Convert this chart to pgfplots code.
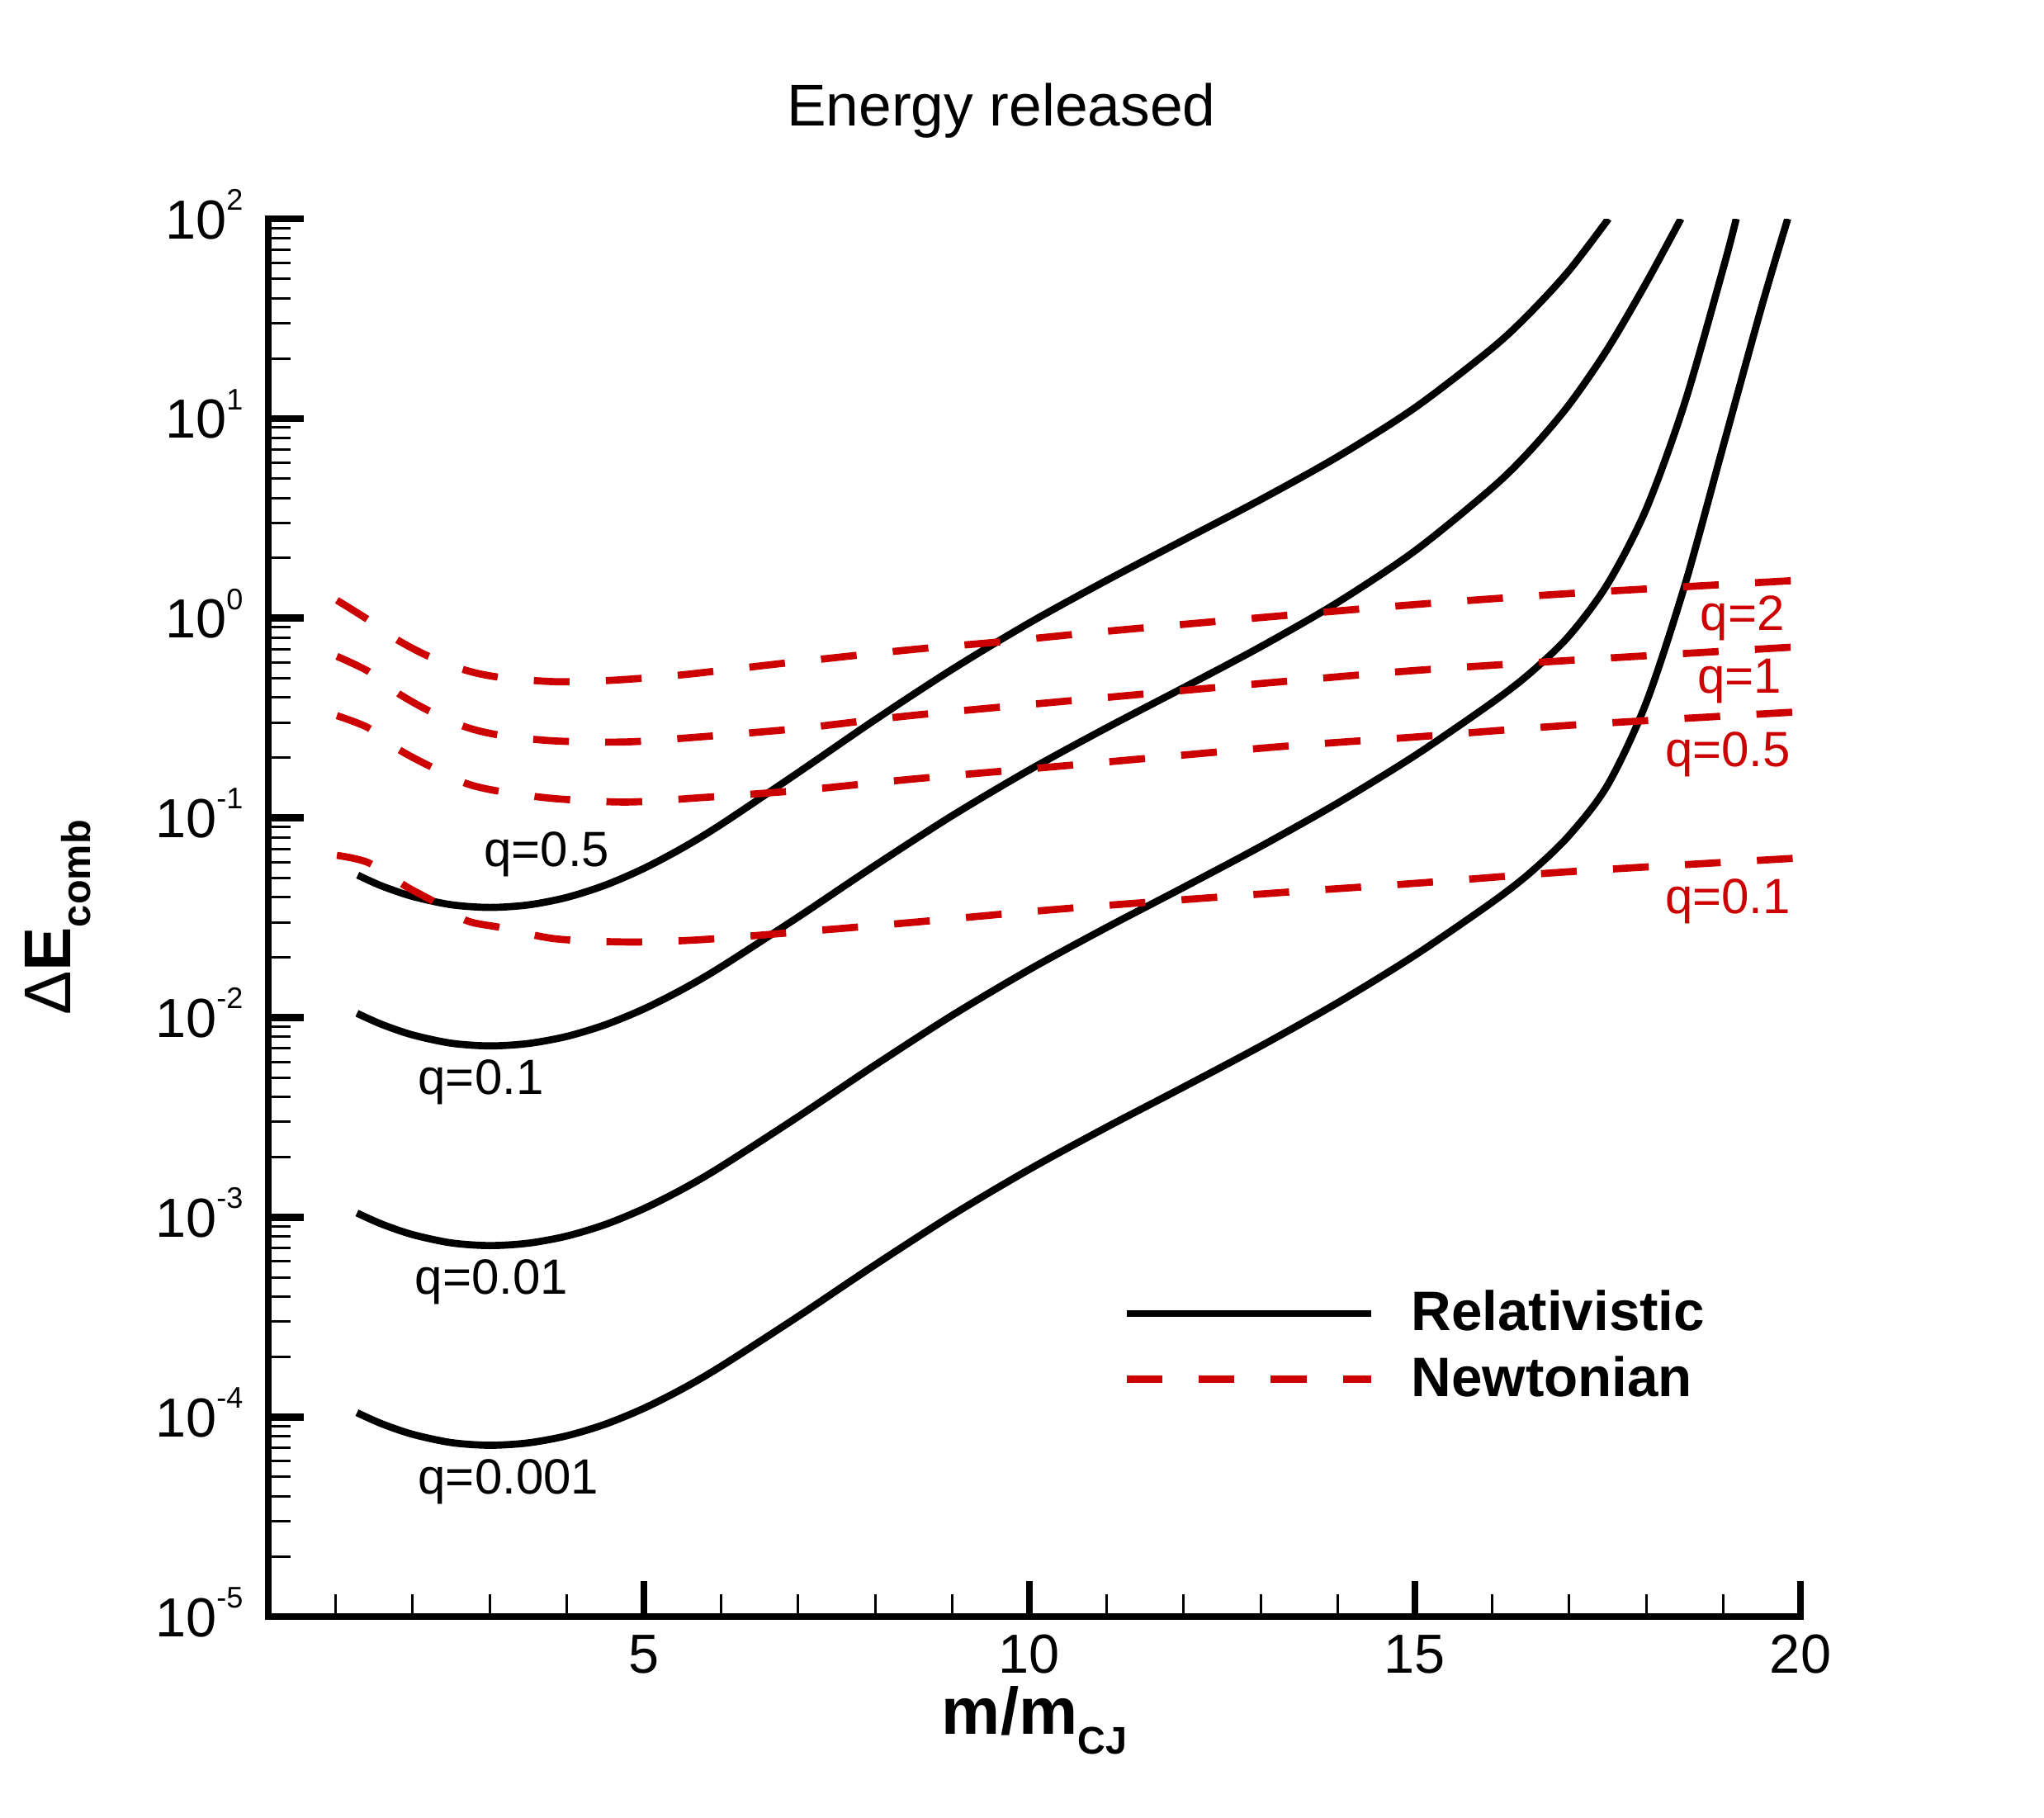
\documentclass[border=0pt]{standalone}
\usepackage{fontspec}
\setmainfont{Liberation Sans}
\usepackage{pgfplots}
\pgfplotsset{compat=1.18}
\definecolor{nred}{RGB}{204,0,0}
% decade tick label: 10 with a small raised exponent
\newcommand\tp[1]{10\raisebox{5.2pt}{\fontsize{5.4}{6}\selectfont #1}}

\begin{document}
\begin{tikzpicture}
\path[use as bounding box] (-48.75pt,-36.45pt) rectangle (322.65pt,293.7pt);
\begin{axis}[
  at={(0pt,0pt)}, anchor=south west,
  scale only axis, width=278.4pt, height=253.95pt,
  xmin=0.13, xmax=20, ymode=log, ymin=1e-5, ymax=1e2,
  axis x line=bottom, axis y line=left,
  axis line style={-, line width=1.3pt, line cap=rect},
  tick align=inside,
  xtick={5,10,15,20}, xticklabels={5,10,15,20},
  minor xtick={1,2,3,4,6,7,8,9,11,12,13,14,16,17,18,19},
  ytick={1e-5,1e-4,1e-3,1e-2,1e-1,1,1e1,1e2},
  yticklabels={\tp{-5},\tp{-4},\tp{-3},\tp{-2},\tp{-1},\tp{0},\tp{1},\tp{2}},
  major tick length=6.5pt, minor tick length=4pt,
  every major tick/.append style={line width=1.3pt, black},
  every minor tick/.append style={line width=0.45pt, black},
  tick label style={font=\fontsize{10}{12}\selectfont, inner sep=0pt},
  xticklabel style={anchor=base, yshift=-10.3pt},
  yticklabel style={anchor=base east, xshift=-4.4pt, yshift=-3.6pt},
  title={Energy released},
  title style={at={(axis description cs:0.4784,1.0664)}, anchor=base, yshift=-6pt,
    font=\fontsize{10.7}{13}\selectfont, inner sep=0pt},
  xlabel={\textbf{m/m}\raisebox{-3.6pt}{\fontsize{7}{8}\selectfont\bfseries CJ}},
  xlabel style={at={(axis description cs:0.5,-0.0843)}, anchor=base,
    font=\fontsize{12}{14}\selectfont, inner sep=0pt},
  ylabel={Δ\textbf{E}\raisebox{-3.6pt}{\fontsize{7.3}{8}\selectfont\bfseries comb}},
  ylabel style={at={(axis description cs:-0.1288,0.5)}, anchor=base,
    font=\fontsize{12}{14}\selectfont, inner sep=0pt},
  legend style={at={(axis description cs:0.5578,0.2333)}, anchor=north west,
    draw=none, fill=none, inner sep=0pt, outer sep=0pt,
    row sep=4.6pt, column sep=6.6pt,
    font=\bfseries\fontsize{10.1}{12}\selectfont,
    cells={anchor=base west},
    nodes={inner sep=0pt, text height=7.3pt, text depth=0pt}},
  legend image code/.code={\draw[#1] (0pt,3.1pt) -- (44.5pt,3.1pt);},
  rel/.style={black, line width=1.3pt, smooth, tension=0.5, forget plot},
  newt/.style={nred, line width=1.3pt, smooth, tension=0.5,
    dash pattern=on 6.5pt off 6.6pt, forget plot},
]

% Relativistic, q = 0.5
\addplot[rel] coordinates {
 (1.29,0.05164) (1.6,0.04560) (2.0,0.04042) (2.5,0.03674) (3.0,0.03560)
 (3.5,0.03664) (4.0,0.03995) (4.5,0.04603) (5.0,0.05579) (5.5,0.07063)
 (6.0,0.09258) (7.0,0.1684) (8.0,0.3101) (9.0,0.5546) (10.0,0.9473)
 (11.0,1.545) (12.0,2.463) (13.0,3.926) (14.0,6.442) (15.0,11.32)
 (16.0,22.46) (16.5,34.0) (17.0,55.14) (17.51,100)};
% Relativistic, q = 0.1
\addplot[rel] coordinates {
 (1.28,0.01050) (1.6,0.009243) (2.0,0.008185) (2.5,0.007442) (3.0,0.007211)
 (3.5,0.007412) (4.0,0.008042) (4.5,0.009196) (5.0,0.01104) (5.5,0.01382)
 (6.0,0.01791) (7.0,0.03184) (8.0,0.05781) (9.0,0.1026) (10.0,0.1738)
 (11.0,0.2822) (12.0,0.4487) (13.0,0.7194) (14.0,1.201) (15.0,2.173)
 (16.0,4.487) (16.5,6.950) (17.0,11.74) (17.5,22.36) (18.0,47.80) (18.45,100)};
% Relativistic, q = 0.01
\addplot[rel] coordinates {
 (1.28,0.001050) (1.6,0.0009243) (2.0,0.0008185) (2.5,0.0007442) (3.0,0.0007211)
 (3.5,0.0007412) (4.0,0.0008042) (4.5,0.0009196) (5.0,0.001104) (5.5,0.001382)
 (6.0,0.001791) (7.0,0.003184) (8.0,0.005781) (9.0,0.01026) (10.0,0.01738)
 (11.0,0.02822) (12.0,0.04487) (13.0,0.07194) (14.0,0.1187) (15.0,0.2051)
 (16.0,0.3776) (16.5,0.5333) (17.0,0.8166) (17.5,1.486) (18.0,3.524)
 (18.5,12.01) (19.0,56.82) (19.167,100)};
% Relativistic, q = 0.001
\addplot[rel] coordinates {
 (1.28,0.0001050) (1.6,0.00009243) (2.0,0.00008185) (2.5,0.00007442)
 (3.0,0.00007211) (3.5,0.00007412) (4.0,0.00008042) (4.5,0.00009196)
 (5.0,0.0001104) (5.5,0.0001382) (6.0,0.0001791) (7.0,0.0003184)
 (8.0,0.0005781) (9.0,0.001026) (10.0,0.001738) (11.0,0.002822)
 (12.0,0.004487) (13.0,0.007194) (14.0,0.01187) (15.0,0.02051) (16.0,0.03776)
 (16.5,0.05333) (17.0,0.08166) (17.5,0.1462) (18.0,0.3779) (18.5,1.462)
 (19.0,7.328) (19.5,36.73) (19.835,100)};

% Newtonian, q = 2
\addplot[newt] coordinates {
 (1.02,1.23) (1.41,0.99) (1.80,0.78) (2.21,0.644) (2.68,0.55) (3.11,0.507)
 (3.83,0.481) (4.52,0.487) (5.47,0.519) (6.82,0.595) (8.456,0.695)
 (9.6,0.76) (11.0,0.86) (13.17,1.02) (15.0,1.17) (17.02,1.33) (20.0,1.55)};
% Newtonian, q = 1
\addplot[newt] coordinates {
 (1.02,0.644) (1.43,0.541) (1.82,0.419) (2.23,0.341) (2.68,0.286) (3.12,0.26)
 (3.83,0.243) (4.77,0.240) (5.71,0.254) (7.0,0.28) (8.456,0.325)
 (10.5,0.385) (13.17,0.477) (15.0,0.547) (17.02,0.615) (20.0,0.72)};
% Newtonian, q = 0.5
\addplot[newt] coordinates {
 (1.02,0.325) (1.43,0.282) (1.83,0.219) (2.23,0.181) (2.69,0.149) (3.12,0.136)
 (3.83,0.125) (4.77,0.12) (5.71,0.126) (7.0,0.137) (8.456,0.156)
 (10.5,0.183) (13.17,0.226) (15.0,0.254) (17.02,0.291) (20.0,0.34)};
% Newtonian, q = 0.1
\addplot[newt] coordinates {
 (1.02,0.0649) (1.43,0.0596) (1.91,0.0455) (2.24,0.0388) (2.70,0.0306)
 (3.15,0.0282) (3.85,0.0248) (4.80,0.0239) (5.71,0.0245) (7.0,0.0268)
 (8.456,0.0299) (10.5,0.0352) (13.17,0.042) (15.0,0.047) (17.02,0.0538)
 (20.0,0.063)};

\addlegendimage{black, line width=1.3pt}
\addlegendentry{Relativistic}
\addlegendimage{nred, line width=1.3pt, dash pattern=on 6.5pt off 6.6pt}
\addlegendentry{Newtonian}

% curve labels
\begin{scope}[every node/.style={anchor=base west, inner sep=0pt, font=\fontsize{9}{11}\selectfont}]
\node at (axis cs:2.915,0.0570) {q=0.5};
\node at (axis cs:2.06,0.00414) {q=0.1};
\node at (axis cs:2.02,0.000411) {q=0.01};
\node at (axis cs:2.06,0.0000412) {q=0.001};
\node[text=nred] at (axis cs:18.69,0.873) {q=2};
\node[text=nred] at (axis cs:18.65,0.423) {q=1};
\node[text=nred] at (axis cs:18.23,0.180) {q=0.5};
\node[text=nred] at (axis cs:18.23,0.0332) {q=0.1};
\end{scope}
\end{axis}
\end{tikzpicture}
\end{document}
